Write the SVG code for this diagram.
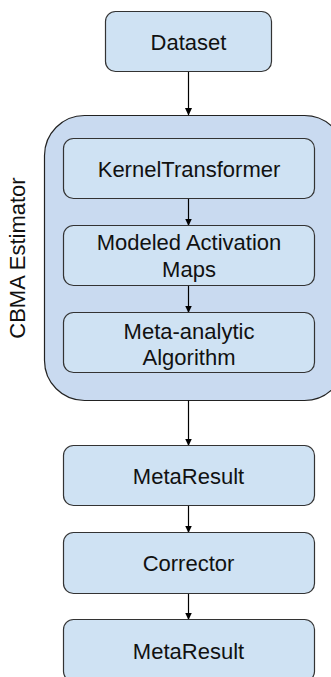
<svg xmlns="http://www.w3.org/2000/svg" width="331" height="677" viewBox="0 0 331 677">
<style>
.box{fill:#cfe2f3;stroke:#333;stroke-width:1.2}
.cont{fill:#c9daf0;stroke:#222;stroke-width:1.2}
.t{font-family:"Liberation Sans",Arial,sans-serif;font-size:22px;fill:#111;text-anchor:middle}
.c{stroke:#000;stroke-width:1.2;fill:none;marker-end:url(#ah)}
</style>
<defs>
<marker id="ah" markerWidth="8" markerHeight="8" refX="7" refY="4" orient="auto" markerUnits="userSpaceOnUse">
<path d="M0,0.5 L7.5,4 L0,7.5 Z" fill="#000"/>
</marker>
</defs>
<rect width="331" height="677" fill="#fff"/>
<g id="cbma-estimator">
<rect class="cont" x="44.5" y="115.5" width="300" height="285" rx="40"/>
<text class="t" transform="translate(25,258) rotate(-90)">CBMA Estimator</text>
</g>
<g id="connectors">
<line class="c" x1="188.5" y1="71.5" x2="188.5" y2="115"/>
<line class="c" x1="188.5" y1="198.5" x2="188.5" y2="225.5"/>
<line class="c" x1="188.5" y1="285.5" x2="188.5" y2="312.5"/>
<line class="c" x1="188.5" y1="400.5" x2="188.5" y2="445.5"/>
<line class="c" x1="188.5" y1="505.5" x2="188.5" y2="532.5"/>
<line class="c" x1="188.5" y1="593.5" x2="188.5" y2="619.5"/>
</g>
<g id="dataset">
<rect class="box" x="105.5" y="11.5" width="166" height="60" rx="10"/>
<text class="t" x="188.5" y="49.5">Dataset</text>
</g>
<g id="kernel-transformer">
<rect class="box" x="63.5" y="138.5" width="251" height="60" rx="10"/>
<text class="t" x="189" y="176.5">KernelTransformer</text>
</g>
<g id="modeled-activation-maps">
<rect class="box" x="63.5" y="225.5" width="251" height="60" rx="10"/>
<text class="t" x="189" y="250">Modeled Activation</text>
<text class="t" x="189" y="276.5">Maps</text>
</g>
<g id="meta-analytic-algorithm">
<rect class="box" x="63.5" y="312.5" width="251" height="60" rx="10"/>
<text class="t" x="189" y="338.5">Meta-analytic</text>
<text class="t" x="189" y="365">Algorithm</text>
</g>
<g id="metaresult-1">
<rect class="box" x="63.5" y="445.5" width="251" height="60" rx="10"/>
<text class="t" x="188.5" y="484">MetaResult</text>
</g>
<g id="corrector">
<rect class="box" x="63.5" y="532.5" width="251" height="61" rx="10"/>
<text class="t" x="188.5" y="571">Corrector</text>
</g>
<g id="metaresult-2">
<rect class="box" x="63.5" y="619.5" width="251" height="62" rx="10"/>
<text class="t" x="188.5" y="659">MetaResult</text>
</g>
</svg>
